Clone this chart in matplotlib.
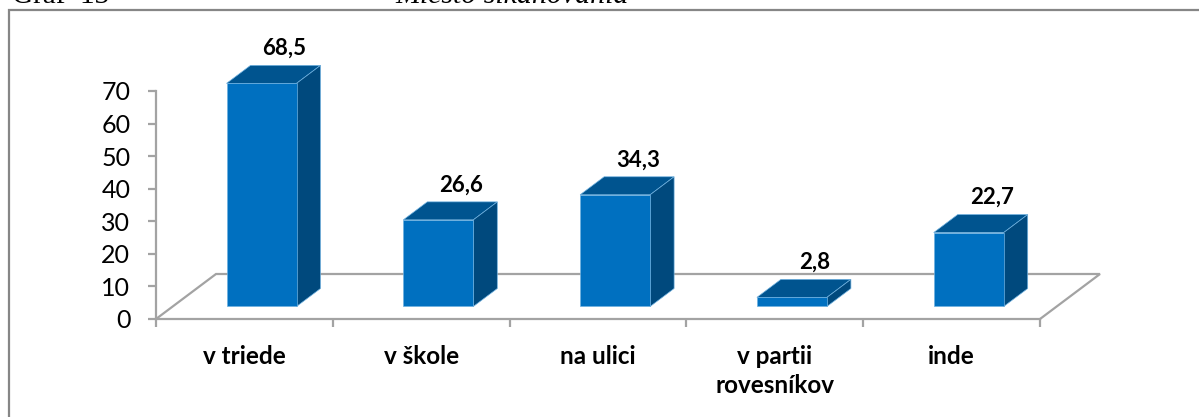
import matplotlib
matplotlib.use("Agg")
import matplotlib.pyplot as plt
from matplotlib.lines import Line2D
from matplotlib.patches import Polygon

# Data
categories = ["v triede", "v škole", "na ulici", "v partii\nrovesníkov", "inde"]
values = [68.5, 26.6, 34.3, 2.8, 22.7]
value_labels = ["68,5", "26,6", "34,3", "2,8", "22,7"]
y_ticks = [0, 10, 20, 30, 40, 50, 60, 70]

W, H = 1199, 417
GRAY = "#a3a3a3"
FRONT, TOP, SIDE, EDGE = "#0070c0", "#00548f", "#00497d", "#6fb1e0"

plt.rcParams["font.family"] = ["Lato", "DejaVu Sans"]

fig = plt.figure(figsize=(W / 100, H / 100), dpi=100)
ax = fig.add_axes([156 / W, (H - 319) / H, 884 / W, 228 / H])
ax.set_xlim(0, 5)
ax.set_ylim(0, 70)
ax.patch.set_visible(False)

# Axis look
for side in ("top", "right"):
    ax.spines[side].set_visible(False)
for side in ("left", "bottom"):
    ax.spines[side].set_color(GRAY)
    ax.spines[side].set_linewidth(1.6)
ax.set_yticks(y_ticks)
ax.set_xticks(range(len(categories) + 1))
ax.set_xticklabels([])
ax.tick_params(axis="y", length=5.5, width=1.6, color=GRAY, labelsize=18, pad=13)
ax.tick_params(axis="x", length=5.5, width=1.6, color=GRAY)

# Floor of the 3D box
floor_dx, floor_dy = 60 / 176.8, 45 / 3.257
n = len(categories)
ax.plot([0, floor_dx, n + floor_dx, n], [0, floor_dy, floor_dy, 0],
        color=GRAY, lw=1.6, clip_on=False, zorder=1, solid_joinstyle="miter")

# Bars
base = 12.5 / 3.257
bar_left, bar_w = 70.5 / 176.8, 70 / 176.8
dx, dy = 24 / 176.8, 18 / 3.257
for i, v in enumerate(values):
    x0, x1 = i + bar_left, i + bar_left + bar_w
    y0, y1 = base, base + v
    front = [(x0, y0), (x1, y0), (x1, y1), (x0, y1)]
    top = [(x0, y1), (x1, y1), (x1 + dx, y1 + dy), (x0 + dx, y1 + dy)]
    right = [(x1, y0), (x1 + dx, y0 + dy), (x1 + dx, y1 + dy), (x1, y1)]
    for pts, col in ((top, TOP), (right, SIDE), (front, FRONT)):
        ax.add_patch(Polygon(pts, closed=True, facecolor=col, edgecolor=EDGE,
                             lw=0.5, clip_on=False, zorder=3))
    ax.text((x0 + x1) / 2 + 23 / 176.8, y1 + dy + 17 / 3.257, value_labels[i],
            ha="center", va="center", fontsize=16, fontweight="bold",
            color="black", zorder=4)

# Category labels
for i, c in enumerate(categories):
    ax.annotate(c, xy=(i + 0.5, 0), xycoords="data", xytext=(0, -19),
                textcoords="offset points", ha="center", va="top",
                fontsize=17.5, fontweight="bold", linespacing=1.27,
                annotation_clip=False)

# Frame around the chart, cut off by the image on the right and bottom
frame_x, frame_y = [8.5 / W, 8.5 / W, 1], [0, 1 - 10 / H, 1 - 10 / H]
fig.add_artist(Line2D(frame_x, frame_y, color="#868686", lw=1.6,
                      transform=fig.transFigure, solid_joinstyle="miter"))

# Document text cut off at the top edge
fig.text(12 / W, 1 - 3 / H, "Graf  13", family="Liberation Serif",
         fontsize=21, va="baseline", ha="left")
fig.text(395 / W, 1 - 3 / H, "Miesto šikanovania", family="Liberation Serif",
         fontsize=21.5, style="italic", va="baseline", ha="left")

fig.savefig("out.png", dpi=100)
